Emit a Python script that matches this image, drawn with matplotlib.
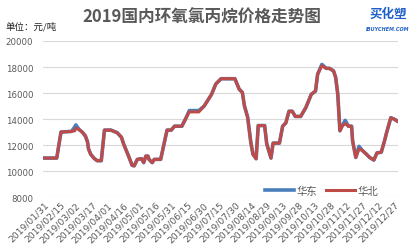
import matplotlib
matplotlib.use("Agg")
import matplotlib.pyplot as plt

plt.rcParams["font.family"] = ["Noto Sans CJK SC", "DejaVu Sans"]

# day offsets from 2019/01/31
days = [0, 12, 16, 26, 29, 30, 33, 36, 39, 41, 42, 44, 47, 50, 54, 57, 63, 66,
        69, 73, 75, 77, 80, 83, 85, 88, 92, 94, 96, 98, 99, 102, 104, 110, 116,
        120, 123, 130, 134, 137, 146, 151, 158, 162, 167, 180, 184, 187, 189,
        192, 195, 197, 200, 202, 208, 210, 214, 216, 222, 225, 228, 231, 234,
        237, 242, 247, 252, 256, 258, 262, 266, 269, 273, 275, 277, 279, 281,
        284, 287, 290, 291, 294, 297, 300, 304, 307, 311, 314, 318, 321, 323,
        327, 330, 333]
huabei = [11000, 11000, 13000, 13050, 13100, 13300, 13200, 13000, 12700, 12250,
          11700, 11300, 11000, 10800, 10800, 13150, 13150, 13050, 12950, 12600,
          12100, 11700, 11100, 10450, 10400, 10900, 10950, 10650, 11150, 11150,
          10900, 10650, 10900, 10900, 13150, 13150, 13450, 13450, 14100, 14550,
          14550, 15000, 15900, 16700, 17100, 17100, 16300, 16050, 15000, 14150,
          12200, 11300, 10950, 13500, 13500, 12100, 11000, 12150, 12150, 13450,
          13700, 14600, 14600, 14200, 14200, 14900, 15900, 16150, 17450, 18100,
          17900, 17900, 17700, 17200, 15900, 13100, 13450, 13650, 13450, 13450,
          12300, 11050, 11700, 11600, 11300, 11050, 10850, 11400, 11450, 12300,
          12950, 14100, 14000, 13850]
huadong = list(huabei)
huadong[4] = 13400
huadong[5] = 13550
huadong[39] = 14650
huadong[40] = 14650
huadong[69] = 18200
huadong[77] = 13900
huadong[82] = 11900

tick_days = list(range(0, 331, 15))
tick_labels = ["2019/01/31", "2019/02/15", "2019/03/02", "2019/03/17",
               "2019/04/01", "2019/04/16", "2019/05/01", "2019/05/16",
               "2019/05/31", "2019/06/15", "2019/06/30", "2019/07/15",
               "2019/07/30", "2019/08/14", "2019/08/29", "2019/09/13",
               "2019/09/28", "2019/10/13", "2019/10/28", "2019/11/12",
               "2019/11/27", "2019/12/12", "2019/12/27"]
y_ticks = [8000, 10000, 12000, 14000, 16000, 18000, 20000]

C_BLUE, C_RED = "#4a7ebb", "#be4b48"

fig = plt.figure(figsize=(4.17, 2.53), dpi=100)
ax = fig.add_axes([0.103, 0.217, 0.852, 0.617])
ax.plot(days, huadong, color=C_BLUE, lw=2.6, label="华东", solid_joinstyle="round")
ax.plot(days, huabei, color=C_RED, lw=2.2, label="华北", solid_joinstyle="round")
ax.set_xlim(-1, 334)
ax.set_ylim(8000, 20000)
ax.set_yticks(y_ticks)
ax.set_yticklabels([str(v) for v in y_ticks], fontsize=6.2, color="#595959",
                   family="DejaVu Sans")
ax.set_xticks(tick_days)
ax.set_xticklabels(tick_labels, rotation=45, ha="right", rotation_mode="anchor",
                   fontsize=6.6, color="#595959", family="DejaVu Sans")
ax.tick_params(axis="y", length=0, pad=7)
ax.tick_params(axis="x", length=0, pad=2)
ax.grid(axis="y", color="#d9d9d9", lw=0.8)
ax.set_axisbelow(True)
for s in ax.spines.values():
    s.set_visible(False)

leg = ax.legend(loc="lower right", bbox_to_anchor=(0.97, -0.05), ncol=2,
                frameon=False, fontsize=7.5, handlelength=2.8, handletextpad=0.2,
                columnspacing=0.9)
for t in leg.get_texts():
    t.set_color("#595959")

fig.text(0.485, 0.93, "2019国内环氧氯丙烷价格走势图", ha="center", va="center",
         fontsize=12, fontweight="bold", color="#595959")
fig.text(0.012, 0.895, "单位：元/吨", ha="left", va="center", fontsize=6.8,
         color="#222222")
fig.text(0.93, 0.945, "买化塑", ha="center", va="center", fontsize=9,
         fontweight="bold", style="italic", color="#1f5fc8")
fig.text(0.93, 0.885, "IBUYCHEM.COM", ha="center", va="center", fontsize=3.5,
         fontweight="bold", style="italic", color="#1f5fc8", family="DejaVu Sans")

fig.savefig("out.png", dpi=100)
